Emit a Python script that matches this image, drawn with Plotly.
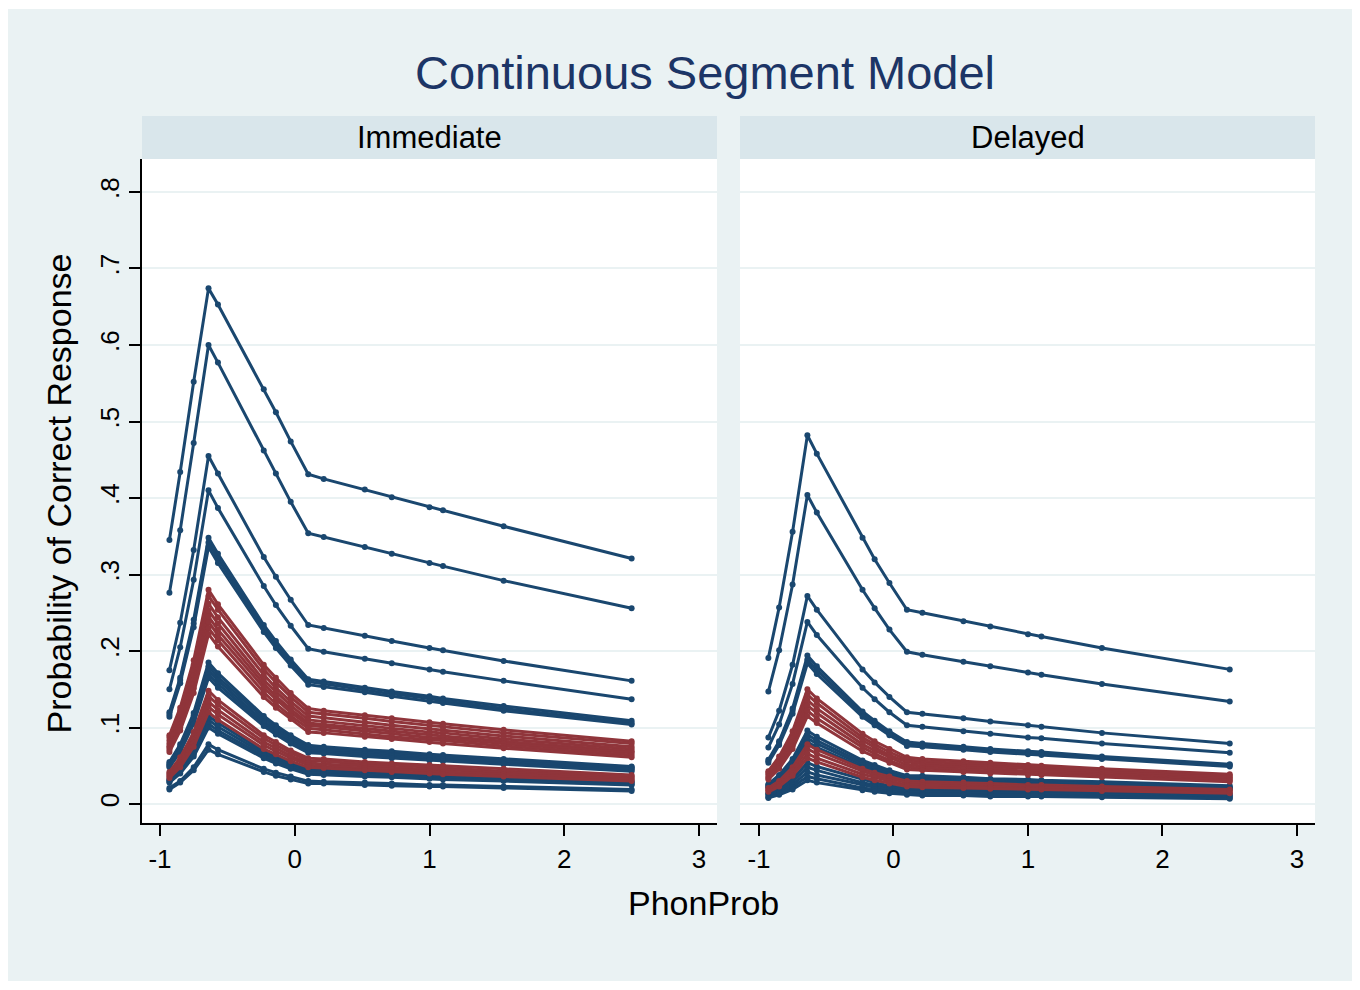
import plotly.graph_objects as go

# ---------------- data ----------------
phonprob = [-0.93, -0.85, -0.75, -0.64, -0.57, -0.23, -0.14, -0.03, 0.1, 0.215,
            0.52, 0.72, 1.0, 1.1, 1.55, 2.5]

immediate_blue = [
    [0.345, 0.434, 0.552, 0.674, 0.653, 0.542, 0.512, 0.474, 0.431, 0.425, 0.411, 0.401, 0.388, 0.384, 0.363, 0.321],
    [0.276, 0.358, 0.472, 0.600, 0.577, 0.462, 0.432, 0.395, 0.354, 0.349, 0.336, 0.327, 0.315, 0.311, 0.292, 0.256],
    [0.175, 0.237, 0.332, 0.455, 0.432, 0.323, 0.297, 0.267, 0.234, 0.230, 0.220, 0.213, 0.204, 0.201, 0.187, 0.161],
    [0.150, 0.205, 0.293, 0.410, 0.387, 0.285, 0.260, 0.233, 0.203, 0.199, 0.190, 0.184, 0.176, 0.173, 0.161, 0.137],
    [0.120, 0.165, 0.241, 0.348, 0.327, 0.234, 0.213, 0.189, 0.163, 0.160, 0.152, 0.147, 0.141, 0.138, 0.128, 0.109],
    [0.117, 0.162, 0.236, 0.342, 0.321, 0.229, 0.208, 0.185, 0.160, 0.157, 0.149, 0.144, 0.138, 0.135, 0.125, 0.106],
    [0.114, 0.158, 0.231, 0.336, 0.315, 0.225, 0.204, 0.181, 0.156, 0.153, 0.146, 0.141, 0.134, 0.132, 0.122, 0.104],
    [0.055, 0.078, 0.119, 0.185, 0.171, 0.115, 0.103, 0.090, 0.077, 0.075, 0.071, 0.069, 0.065, 0.064, 0.059, 0.049],
    [0.053, 0.075, 0.116, 0.180, 0.166, 0.112, 0.100, 0.087, 0.074, 0.073, 0.069, 0.066, 0.063, 0.062, 0.057, 0.048],
    [0.051, 0.073, 0.112, 0.175, 0.162, 0.108, 0.097, 0.085, 0.072, 0.071, 0.067, 0.064, 0.061, 0.060, 0.055, 0.046],
    [0.050, 0.071, 0.109, 0.170, 0.157, 0.105, 0.094, 0.082, 0.070, 0.068, 0.065, 0.062, 0.059, 0.058, 0.053, 0.045],
    [0.048, 0.068, 0.105, 0.165, 0.152, 0.102, 0.091, 0.079, 0.067, 0.066, 0.062, 0.060, 0.057, 0.056, 0.052, 0.043],
    [0.032, 0.046, 0.072, 0.115, 0.106, 0.069, 0.062, 0.054, 0.045, 0.044, 0.042, 0.040, 0.038, 0.038, 0.035, 0.029],
    [0.031, 0.044, 0.069, 0.110, 0.101, 0.066, 0.059, 0.051, 0.043, 0.042, 0.040, 0.039, 0.037, 0.036, 0.033, 0.028],
    [0.029, 0.042, 0.065, 0.105, 0.096, 0.063, 0.056, 0.049, 0.041, 0.040, 0.038, 0.037, 0.035, 0.034, 0.031, 0.026],
    [0.028, 0.040, 0.062, 0.100, 0.092, 0.060, 0.053, 0.046, 0.039, 0.038, 0.036, 0.035, 0.033, 0.032, 0.030, 0.025],
    [0.021, 0.030, 0.048, 0.078, 0.071, 0.046, 0.041, 0.036, 0.030, 0.029, 0.028, 0.027, 0.025, 0.025, 0.023, 0.019],
    [0.019, 0.028, 0.044, 0.071, 0.065, 0.042, 0.037, 0.032, 0.027, 0.027, 0.025, 0.024, 0.023, 0.023, 0.021, 0.017],
]

immediate_red = [
    [0.090, 0.126, 0.188, 0.280, 0.261, 0.182, 0.165, 0.145, 0.125, 0.122, 0.116, 0.112, 0.107, 0.105, 0.097, 0.082],
    [0.087, 0.122, 0.182, 0.272, 0.254, 0.176, 0.159, 0.140, 0.120, 0.118, 0.112, 0.108, 0.103, 0.101, 0.093, 0.079],
    [0.083, 0.117, 0.174, 0.262, 0.244, 0.169, 0.152, 0.134, 0.115, 0.113, 0.107, 0.103, 0.098, 0.097, 0.089, 0.075],
    [0.079, 0.112, 0.168, 0.253, 0.236, 0.162, 0.147, 0.129, 0.110, 0.108, 0.102, 0.099, 0.094, 0.093, 0.085, 0.072],
    [0.076, 0.108, 0.162, 0.245, 0.228, 0.157, 0.141, 0.124, 0.106, 0.104, 0.099, 0.095, 0.091, 0.089, 0.082, 0.069],
    [0.074, 0.104, 0.157, 0.238, 0.221, 0.152, 0.137, 0.120, 0.103, 0.101, 0.095, 0.092, 0.087, 0.086, 0.079, 0.067],
    [0.071, 0.100, 0.151, 0.230, 0.214, 0.146, 0.131, 0.115, 0.099, 0.097, 0.091, 0.088, 0.084, 0.083, 0.076, 0.064],
    [0.068, 0.096, 0.145, 0.222, 0.206, 0.140, 0.126, 0.111, 0.094, 0.093, 0.088, 0.085, 0.081, 0.079, 0.073, 0.061],
    [0.042, 0.061, 0.094, 0.148, 0.136, 0.090, 0.081, 0.070, 0.060, 0.059, 0.055, 0.053, 0.051, 0.050, 0.046, 0.038],
    [0.040, 0.057, 0.089, 0.141, 0.130, 0.086, 0.077, 0.067, 0.057, 0.056, 0.052, 0.051, 0.048, 0.047, 0.043, 0.036],
    [0.038, 0.054, 0.084, 0.134, 0.123, 0.081, 0.073, 0.063, 0.054, 0.052, 0.050, 0.048, 0.045, 0.045, 0.041, 0.034],
    [0.036, 0.051, 0.080, 0.127, 0.117, 0.077, 0.069, 0.060, 0.051, 0.049, 0.047, 0.045, 0.043, 0.042, 0.039, 0.032],
    [0.034, 0.048, 0.075, 0.120, 0.110, 0.072, 0.065, 0.056, 0.048, 0.047, 0.044, 0.042, 0.040, 0.039, 0.036, 0.030],
]

delayed_blue = [
    [0.191, 0.257, 0.356, 0.482, 0.458, 0.348, 0.320, 0.289, 0.254, 0.250, 0.239, 0.232, 0.222, 0.219, 0.204, 0.176],
    [0.147, 0.201, 0.287, 0.404, 0.381, 0.280, 0.256, 0.228, 0.199, 0.195, 0.186, 0.180, 0.172, 0.169, 0.157, 0.134],
    [0.087, 0.122, 0.182, 0.272, 0.254, 0.176, 0.159, 0.140, 0.120, 0.118, 0.112, 0.108, 0.103, 0.101, 0.093, 0.079],
    [0.074, 0.104, 0.157, 0.238, 0.221, 0.152, 0.137, 0.120, 0.103, 0.101, 0.095, 0.092, 0.087, 0.086, 0.079, 0.067],
    [0.058, 0.082, 0.125, 0.194, 0.180, 0.121, 0.109, 0.095, 0.081, 0.079, 0.075, 0.072, 0.069, 0.068, 0.062, 0.052],
    [0.056, 0.080, 0.122, 0.189, 0.175, 0.118, 0.106, 0.092, 0.079, 0.077, 0.073, 0.070, 0.067, 0.066, 0.060, 0.051],
    [0.054, 0.077, 0.118, 0.184, 0.170, 0.114, 0.103, 0.090, 0.076, 0.075, 0.071, 0.068, 0.065, 0.064, 0.059, 0.049],
    [0.026, 0.038, 0.059, 0.096, 0.088, 0.057, 0.051, 0.044, 0.037, 0.037, 0.035, 0.033, 0.032, 0.031, 0.029, 0.024],
    [0.025, 0.036, 0.056, 0.091, 0.083, 0.054, 0.048, 0.042, 0.035, 0.035, 0.033, 0.031, 0.030, 0.029, 0.027, 0.022],
    [0.023, 0.034, 0.053, 0.086, 0.079, 0.051, 0.046, 0.039, 0.033, 0.033, 0.031, 0.030, 0.028, 0.028, 0.025, 0.021],
    [0.022, 0.032, 0.050, 0.081, 0.074, 0.048, 0.043, 0.037, 0.031, 0.031, 0.029, 0.028, 0.026, 0.026, 0.024, 0.020],
    [0.014, 0.021, 0.033, 0.054, 0.049, 0.032, 0.028, 0.024, 0.021, 0.020, 0.019, 0.018, 0.017, 0.017, 0.016, 0.013],
    [0.013, 0.018, 0.029, 0.048, 0.044, 0.028, 0.025, 0.022, 0.018, 0.018, 0.017, 0.016, 0.015, 0.015, 0.014, 0.011],
    [0.011, 0.016, 0.025, 0.042, 0.038, 0.025, 0.022, 0.019, 0.016, 0.016, 0.015, 0.014, 0.013, 0.013, 0.012, 0.010],
    [0.009, 0.014, 0.022, 0.036, 0.033, 0.021, 0.019, 0.016, 0.013, 0.013, 0.012, 0.012, 0.011, 0.011, 0.010, 0.008],
    [0.008, 0.012, 0.019, 0.031, 0.028, 0.018, 0.016, 0.014, 0.012, 0.011, 0.011, 0.010, 0.010, 0.010, 0.009, 0.007],
]

delayed_red = [
    [0.043, 0.062, 0.095, 0.150, 0.138, 0.092, 0.082, 0.072, 0.061, 0.059, 0.056, 0.054, 0.051, 0.050, 0.046, 0.039],
    [0.041, 0.058, 0.090, 0.143, 0.132, 0.087, 0.078, 0.068, 0.058, 0.056, 0.053, 0.051, 0.049, 0.048, 0.044, 0.037],
    [0.039, 0.055, 0.086, 0.136, 0.125, 0.083, 0.074, 0.064, 0.055, 0.053, 0.050, 0.049, 0.046, 0.045, 0.042, 0.035],
    [0.036, 0.052, 0.081, 0.129, 0.119, 0.078, 0.070, 0.061, 0.051, 0.050, 0.048, 0.046, 0.043, 0.043, 0.039, 0.033],
    [0.034, 0.049, 0.076, 0.122, 0.112, 0.074, 0.066, 0.057, 0.048, 0.047, 0.045, 0.043, 0.041, 0.040, 0.037, 0.031],
    [0.032, 0.046, 0.072, 0.115, 0.106, 0.069, 0.062, 0.054, 0.045, 0.044, 0.042, 0.040, 0.038, 0.038, 0.035, 0.029],
    [0.021, 0.030, 0.048, 0.078, 0.071, 0.046, 0.041, 0.036, 0.030, 0.029, 0.028, 0.027, 0.025, 0.025, 0.023, 0.019],
    [0.019, 0.028, 0.044, 0.072, 0.066, 0.043, 0.038, 0.033, 0.028, 0.027, 0.026, 0.025, 0.023, 0.023, 0.021, 0.018],
    [0.018, 0.026, 0.040, 0.066, 0.060, 0.039, 0.035, 0.030, 0.025, 0.025, 0.023, 0.022, 0.021, 0.021, 0.019, 0.016],
    [0.016, 0.023, 0.037, 0.060, 0.055, 0.035, 0.031, 0.027, 0.023, 0.022, 0.021, 0.020, 0.019, 0.019, 0.017, 0.014],
]

panel_labels = ["Immediate", "Delayed"]
x_ticks = [-1, 0, 1, 2, 3]
y_ticks = [0, 0.1, 0.2, 0.3, 0.4, 0.5, 0.6, 0.7, 0.8]
y_ticktext = ["0", ".1", ".2", ".3", ".4", ".5", ".6", ".7", ".8"]

# ---------------- style ----------------
BLUE = "#1A476F"
RED = "#90353B"
TITLE = "#1C3566"
BG = "#EAF2F3"
STRIP = "#D9E6EB"
FONT = "Liberation Sans, Arial, Helvetica, sans-serif"
W, H = 1360, 990

fig = go.Figure()


def add_lines(groups, xa, ya):
    for lines, color in groups:
        for yv in lines:
            fig.add_trace(go.Scatter(
                x=phonprob, y=yv, mode="lines+markers", xaxis=xa, yaxis=ya,
                line=dict(color=color, width=3),
                marker=dict(color=color, size=6, symbol="circle"),
                showlegend=False, hoverinfo="skip"))


add_lines([(immediate_blue, BLUE), (immediate_red, RED)], "x", "y")
add_lines([(delayed_blue, BLUE), (delayed_red, RED)], "x2", "y2")

# panel geometry in pixels
p1 = (142, 717)
p2 = (740, 1315)
top, bottom = 159, 822.7
ydom = [1 - bottom / H, 1 - top / H]

axis_common = dict(showgrid=False, zeroline=False, ticks="outside", ticklen=12,
                   tickwidth=1.5, tickcolor="black", showline=True,
                   linecolor="black", linewidth=1.5, mirror=False,
                   tickvals=x_ticks, ticktext=[str(v) for v in x_ticks],
                   tickfont=dict(size=26, color="black", family=FONT))

yaxis_common = dict(range=[-0.0244, 0.8431], tickvals=y_ticks, showgrid=True,
                    gridcolor=BG, gridwidth=2, zeroline=False, domain=ydom)

fig.update_layout(
    width=W, height=H,
    margin=dict(l=0, r=0, t=0, b=0),
    paper_bgcolor=BG, plot_bgcolor="white",
    font=dict(family=FONT, color="black"),
    xaxis=dict(domain=[p1[0] / W, p1[1] / W], range=[-1.1336, 3.1336], anchor="y",
               **axis_common),
    xaxis2=dict(domain=[p2[0] / W, p2[1] / W], range=[-1.141, 3.134], anchor="y2",
                **axis_common),
    yaxis=dict(anchor="x", ticks="outside", ticklen=11, tickwidth=1.5,
               tickcolor="black", showline=True, linecolor="black", linewidth=1.5,
               ticktext=y_ticktext, tickangle=-90,
               tickfont=dict(size=26, color="black", family=FONT),
               **yaxis_common),
    yaxis2=dict(anchor="x2", matches="y", showticklabels=False, ticks="",
                showline=False, **yaxis_common),
)

shapes = []
# white outer border
for x0, y0, x1, y1 in [(0, 0, 8, H), (1352, 0, W, H), (0, 0, W, 9), (0, 981, W, H)]:
    shapes.append(dict(type="rect", xref="paper", yref="paper",
                       x0=x0 / W, x1=x1 / W, y0=1 - y1 / H, y1=1 - y0 / H,
                       fillcolor="white", line=dict(width=0), layer="below"))
# strips
for (a, b) in [p1, p2]:
    shapes.append(dict(type="rect", xref="paper", yref="paper",
                       x0=a / W, x1=b / W, y0=1 - 159 / H, y1=1 - 116 / H,
                       fillcolor=STRIP, line=dict(width=0), layer="below"))
fig.update_layout(shapes=shapes)

ann = []
for (a, b), lab in zip([p1, p2], panel_labels):
    ann.append(dict(text=lab, x=(a + b) / 2 / W, y=1 - 137.5 / H, xref="paper",
                    yref="paper", showarrow=False, xanchor="center", yanchor="middle",
                    font=dict(size=31, color="black", family=FONT)))
ann.append(dict(text="Continuous Segment Model", x=704.5 / W, y=1 - 72 / H,
                xref="paper", yref="paper", showarrow=False, xanchor="center",
                yanchor="middle", font=dict(size=47, color=TITLE, family=FONT)))
ann.append(dict(text="PhonProb", x=703 / W, y=1 - 903 / H, xref="paper", yref="paper",
                showarrow=False, xanchor="center", yanchor="middle",
                font=dict(size=34, color="black", family=FONT)))
ann.append(dict(text="Probability of Correct Response", x=58 / W, y=1 - 493.5 / H,
                xref="paper", yref="paper", showarrow=False, textangle=-90,
                xanchor="center", yanchor="middle",
                font=dict(size=34, color="black", family=FONT)))
fig.update_layout(annotations=ann)

fig.write_html("out.html")
